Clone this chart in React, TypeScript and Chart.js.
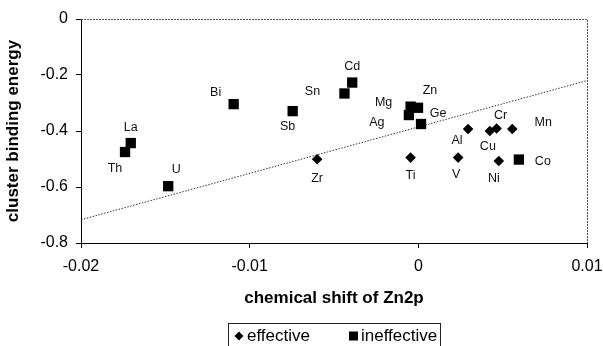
import React, { useEffect, useRef } from "react";
import { Chart, registerables } from "chart.js";

Chart.register(...registerables);

// ---- data ----
const effectiveNames = ["Zr", "Ti", "V", "Al", "Cu", "Cr", "Mn", "Ni"];
const effectiveX = [-0.006, -0.00046, 0.00236, 0.00295, 0.00424, 0.00464, 0.00557, 0.00477];
const effectiveY = [-0.501, -0.495, -0.495, -0.393, -0.4, -0.391, -0.393, -0.507];

const ineffectiveNames = ["Th", "La", "U", "Bi", "Sb", "Sn", "Cd", "Mg", "Zn", "Ag", "Ge", "Co"];
const ineffectiveX = [-0.01739, -0.01705, -0.01483, -0.01095, -0.00745, -0.00438, -0.00392, -0.00046, -0.00002, -0.00056, 0.00016, 0.00596];
const ineffectiveY = [-0.475, -0.443, -0.597, -0.304, -0.329, -0.266, -0.227, -0.313, -0.317, -0.343, -0.375, -0.502];

const trendX = [-0.02, 0.01];
const trendY = [-0.717, -0.22];

const xTicks = [-0.02, -0.01, 0, 0.01];
const xTickLabels = ["-0.02", "-0.01", "0", "0.01"];
const yTicks = [0, -0.2, -0.4, -0.6, -0.8];
const yTickLabels = ["0", "-0.2", "-0.4", "-0.6", "-0.8"];

const seriesNames = ["effective", "ineffective"];
const xTitle = "chemical shift of Zn2p";
const yTitle = "cluster binding energy";

// label offsets in pixels relative to each point (style only)
const effectiveLabelOffsets: [number, number][] = [
  [0, 19], [0, 18], [-2, 17], [-11, 12], [-2, 16], [4, -13], [31, -6], [-5, 18],
];
const ineffectiveLabelOffsets: [number, number][] = [
  [-10, 17], [0, -15], [8, -17], [-18, -12], [-5, 15], [-32, -2], [0, -16],
  [-27, -4], [12, -17], [-32, 8], [17, -10], [24, 2],
];

const FONT = "'Liberation Sans', Arial, Helvetica, sans-serif";

const labelPlugin = {
  id: "pointLabels",
  afterDatasetsDraw(chart: any) {
    const ctx = chart.ctx;
    ctx.save();
    ctx.font = `12.5px ${FONT}`;
    ctx.fillStyle = "#111";
    ctx.textAlign = "center";
    ctx.textBaseline = "middle";
    const sets: [number, string[], [number, number][]][] = [
      [1, effectiveNames, effectiveLabelOffsets],
      [2, ineffectiveNames, ineffectiveLabelOffsets],
    ];
    for (const [di, names, offs] of sets) {
      const meta = chart.getDatasetMeta(di);
      meta.data.forEach((el: any, i: number) => {
        ctx.fillText(names[i], el.x + offs[i][0], el.y + offs[i][1]);
      });
    }
    ctx.restore();
  },
};

const framePlugin = {
  id: "frame",
  beforeDatasetsDraw(chart: any) {
    const { ctx, chartArea: a } = chart;
    ctx.save();
    ctx.strokeStyle = "#555";
    ctx.lineWidth = 1;
    ctx.setLineDash([2, 1]);
    ctx.beginPath();
    ctx.moveTo(a.left, a.top + 0.5);
    ctx.lineTo(a.right + 0.5, a.top + 0.5);
    ctx.lineTo(a.right + 0.5, a.bottom);
    ctx.stroke();
    ctx.restore();
  },
};

const legendPlugin = {
  id: "boxLegend",
  afterDraw(chart: any) {
    const { ctx, chartArea: a } = chart;
    const cx = (a.left + a.right) / 2;
    const top = a.bottom + 80;
    const left = cx - 106;
    const width = 212;
    const midY = top + 13;
    ctx.save();
    ctx.strokeStyle = "#222";
    ctx.lineWidth = 1;
    ctx.strokeRect(Math.round(left) + 0.5, Math.round(top) + 0.5, width, 30);
    ctx.fillStyle = "#000";
    ctx.beginPath();
    const dx = left + 11;
    ctx.moveTo(dx - 4.5, midY);
    ctx.lineTo(dx, midY - 4.5);
    ctx.lineTo(dx + 4.5, midY);
    ctx.lineTo(dx, midY + 4.5);
    ctx.closePath();
    ctx.fill();
    ctx.fillRect(left + 121, midY - 4.5, 9, 9);
    ctx.font = `17px ${FONT}`;
    ctx.textBaseline = "middle";
    ctx.textAlign = "left";
    ctx.fillText(seriesNames[0], left + 19, midY);
    ctx.fillText(seriesNames[1], left + 133, midY);
    ctx.restore();
  },
};

export default function App() {
  const ref = useRef<HTMLCanvasElement | null>(null);
  useEffect(() => {
    document.body.style.margin = "0";
    if (!ref.current) return;
    const chart = new Chart(ref.current, {
      type: "scatter",
      data: {
        datasets: [
          {
            type: "line",
            label: "trend",
            data: trendX.map((x, i) => ({ x, y: trendY[i] })),
            borderColor: "#333",
            borderWidth: 1,
            borderDash: [1.5, 1.5],
            pointRadius: 0,
            fill: false,
            order: 10,
          } as any,
          {
            label: seriesNames[0],
            data: effectiveX.map((x, i) => ({ x, y: effectiveY[i] })),
            pointStyle: "rectRot",
            pointRadius: 5.3,
            backgroundColor: "#000",
            borderColor: "#000",
            borderWidth: 0,
            order: 1,
          },
          {
            label: seriesNames[1],
            data: ineffectiveX.map((x, i) => ({ x, y: ineffectiveY[i] })),
            pointStyle: "rect",
            pointRadius: 7.3,
            backgroundColor: "#000",
            borderColor: "#000",
            borderWidth: 0,
            order: 0,
          },
        ],
      },
      options: {
        responsive: false,
        animation: false,
        layout: { padding: { top: 19, right: 16, bottom: 33, left: 0 } },
        plugins: {
          legend: { display: false },
          tooltip: { enabled: false },
        },
        scales: {
          x: {
            type: "linear",
            min: -0.02,
            max: 0.01,
            afterBuildTicks: (s: any) => {
              s.ticks = xTicks.map((v) => ({ value: v }));
            },
            afterFit: (s: any) => {
              s.height = 70;
              s.paddingLeft = 0;
              s.paddingRight = 0;
            },
            ticks: {
              callback: (v: any) => xTickLabels[xTicks.indexOf(Number(v))] ?? "",
              font: { family: FONT, size: 16 },
              color: "#000",
              padding: 9,
              maxRotation: 0,
            },
            grid: { drawOnChartArea: false, drawTicks: true, tickLength: 5, color: "#000" },
            border: { display: true, color: "#000", width: 1 },
            title: {
              display: true,
              text: xTitle,
              font: { family: FONT, size: 17, weight: "bold" },
              color: "#000",
              padding: { top: 0, bottom: 4 },
            },
          },
          y: {
            type: "linear",
            min: -0.8,
            max: 0,
            afterBuildTicks: (s: any) => {
              s.ticks = yTicks.map((v) => ({ value: v }));
            },
            afterFit: (s: any) => {
              s.width = 81;
              s.paddingTop = 0;
              s.paddingBottom = 0;
            },
            ticks: {
              callback: (v: any) => {
                const idx = yTicks.findIndex((t) => Math.abs(t - Number(v)) < 1e-9);
                return idx >= 0 ? yTickLabels[idx] : "";
              },
              font: { family: FONT, size: 16 },
              color: "#000",
              padding: 8,
            },
            grid: { drawOnChartArea: false, drawTicks: true, tickLength: 5, color: "#000" },
            border: { display: true, color: "#000", width: 1 },
            title: {
              display: true,
              text: yTitle,
              font: { family: FONT, size: 17, weight: "bold" },
              color: "#000",
              padding: { top: 3, bottom: 0 },
            },
          },
        },
      },
      plugins: [framePlugin, labelPlugin, legendPlugin],
    } as any);
    return () => chart.destroy();
  }, []);
  return (
    <div style={{ width: 603, height: 346, background: "#fff" }}>
      <canvas ref={ref} width={603} height={346} style={{ display: "block" }} />
    </div>
  );
}
